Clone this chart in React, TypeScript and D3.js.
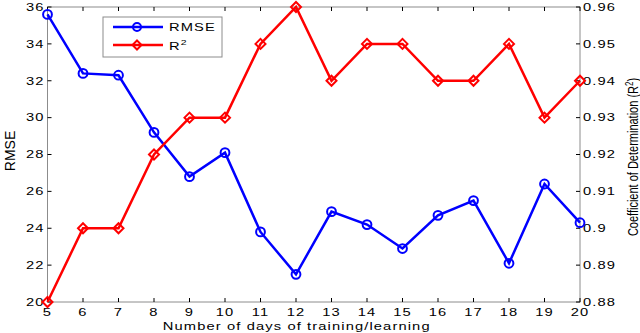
import * as d3 from "d3";
import React, { useEffect, useRef } from "react";

const days = [5, 6, 7, 8, 9, 10, 11, 12, 13, 14, 15, 16, 17, 18, 19, 20];
const rmse = [35.6, 32.4, 32.3, 29.2, 26.8, 28.1, 23.8, 21.5, 24.9, 24.2, 22.9, 24.7, 25.5, 22.1, 26.4, 24.3];
const r2 = [0.88, 0.9, 0.9, 0.92, 0.93, 0.93, 0.95, 0.96, 0.94, 0.95, 0.95, 0.94, 0.94, 0.95, 0.93, 0.94];
const leftTicks = [20, 22, 24, 26, 28, 30, 32, 34, 36];
const rightTicks = [0.88, 0.89, 0.9, 0.91, 0.92, 0.93, 0.94, 0.95, 0.96];

export default function App() {
  const svgRef = useRef<SVGSVGElement>(null);

  useEffect(() => {
    const W = 640, H = 333;
    const margin = { top: 7, right: 60, bottom: 31, left: 47.5 };
    const svg = d3.select(svgRef.current).attr("width", W).attr("height", H);
    svg.selectAll("*").remove();

    const x = d3.scaleLinear().domain([5, 20]).range([margin.left, W - margin.right]);
    const yL = d3.scaleLinear().domain([20, 36]).range([H - margin.bottom, margin.top]);
    const yR = d3.scaleLinear().domain([0.88, 0.96]).range([H - margin.bottom, margin.top]);
    const font = "'Liberation Sans', Arial, sans-serif";
    const axisColor = "#8c8c8c";
    const x0 = x(5), x1 = x(20), y0 = yL(20), y1 = yL(36);

    // the original raster is stretched sideways, so horizontal text gets widened
    const wideText = (px: number, py: number, anchor: string) =>
      svg.append("text")
        .attr("transform", `translate(${px},${py}) scale(1.4,1)`)
        .attr("text-anchor", anchor)
        .attr("font-family", font).attr("font-size", 10.5)
        .attr("letter-spacing", 0.8)
        .attr("fill", "#000");

    // box
    svg.append("rect").attr("x", x0).attr("y", y1).attr("width", x1 - x0).attr("height", y0 - y1)
      .attr("fill", "none").attr("stroke", axisColor).attr("stroke-width", 1);

    const tl = 4;
    days.forEach((d) => {
      svg.append("line").attr("x1", x(d)).attr("x2", x(d)).attr("y1", y0).attr("y2", y0 - tl).attr("stroke", "#000");
      svg.append("line").attr("x1", x(d)).attr("x2", x(d)).attr("y1", y1).attr("y2", y1 + tl).attr("stroke", "#000");
      wideText(x(d), y0 + 14, "middle").text(d);
    });
    leftTicks.forEach((t) => {
      svg.append("line").attr("x1", x0).attr("x2", x0 + tl).attr("y1", yL(t)).attr("y2", yL(t)).attr("stroke", "#000");
      wideText(x0 - 3, yL(t) + 3.8, "end").text(t);
    });
    rightTicks.forEach((t) => {
      svg.append("line").attr("x1", x1).attr("x2", x1 - tl).attr("y1", yR(t)).attr("y2", yR(t)).attr("stroke", "#000");
      wideText(x1 + 3, yR(t) + 3.8, "start").text(String(+t.toFixed(2)));
    });

    wideText((x0 + x1) / 2 - 17, 330, "middle").text("Number of days of training/learning");

    svg.append("text").attr("transform", `translate(15,151) rotate(-90)`).attr("text-anchor", "middle")
      .attr("font-family", font).attr("font-size", 14).attr("fill", "#000").text("RMSE");
    const rl = svg.append("text").attr("transform", `translate(638,157) rotate(-90) scale(1,1.3)`).attr("text-anchor", "middle")
      .attr("font-family", font).attr("font-size", 11).attr("fill", "#000");
    rl.append("tspan").text("Coefficient of Determination (R");
    rl.append("tspan").attr("font-size", 8).attr("dy", -4).text("2");
    rl.append("tspan").attr("dy", 4).text(")");

    const lineL = d3.line<number>().x((_, i) => x(days[i])).y((d) => yL(d));
    const lineR = d3.line<number>().x((_, i) => x(days[i])).y((d) => yR(d));

    svg.append("path").datum(rmse).attr("d", lineL).attr("fill", "none").attr("stroke", "#0000ff").attr("stroke-width", 2.5);
    svg.selectAll(".cm").data(rmse).enter().append("circle")
      .attr("cx", (_, i) => x(days[i])).attr("cy", (d) => yL(d)).attr("r", 4.4)
      .attr("fill", "none").attr("stroke", "#0000ff").attr("stroke-width", 2);

    const diamond = (cx: number, cy: number, s: number) => `M${cx},${cy - s}L${cx + s},${cy}L${cx},${cy + s}L${cx - s},${cy}Z`;
    svg.append("path").datum(r2).attr("d", lineR).attr("fill", "none").attr("stroke", "#ff0000").attr("stroke-width", 2.5);
    svg.selectAll(".dm").data(r2).enter().append("path")
      .attr("d", (d, i) => diamond(x(days[i]), yR(d), 5))
      .attr("fill", "none").attr("stroke", "#ff0000").attr("stroke-width", 2);

    // legend
    svg.append("rect").attr("x", 103).attr("y", 17).attr("width", 119).attr("height", 40)
      .attr("fill", "#fff").attr("stroke", axisColor);
    svg.append("line").attr("x1", 113).attr("x2", 163).attr("y1", 27).attr("y2", 27).attr("stroke", "#0000ff").attr("stroke-width", 2.5);
    svg.append("circle").attr("cx", 137).attr("cy", 27).attr("r", 4).attr("fill", "none").attr("stroke", "#0000ff").attr("stroke-width", 2);
    svg.append("line").attr("x1", 113).attr("x2", 163).attr("y1", 45).attr("y2", 45).attr("stroke", "#ff0000").attr("stroke-width", 2.5);
    svg.append("path").attr("d", diamond(137, 45, 4.5)).attr("fill", "none").attr("stroke", "#ff0000").attr("stroke-width", 2);
    wideText(169, 31, "start").text("RMSE");
    const lt = wideText(169, 49.5, "start");
    lt.append("tspan").text("R");
    lt.append("tspan").attr("font-size", 7.5).attr("dy", -5).text("2");
  }, []);

  return (
    <div style={{ position: "absolute", left: 0, top: 0 }}>
      <svg ref={svgRef}></svg>
    </div>
  );
}
